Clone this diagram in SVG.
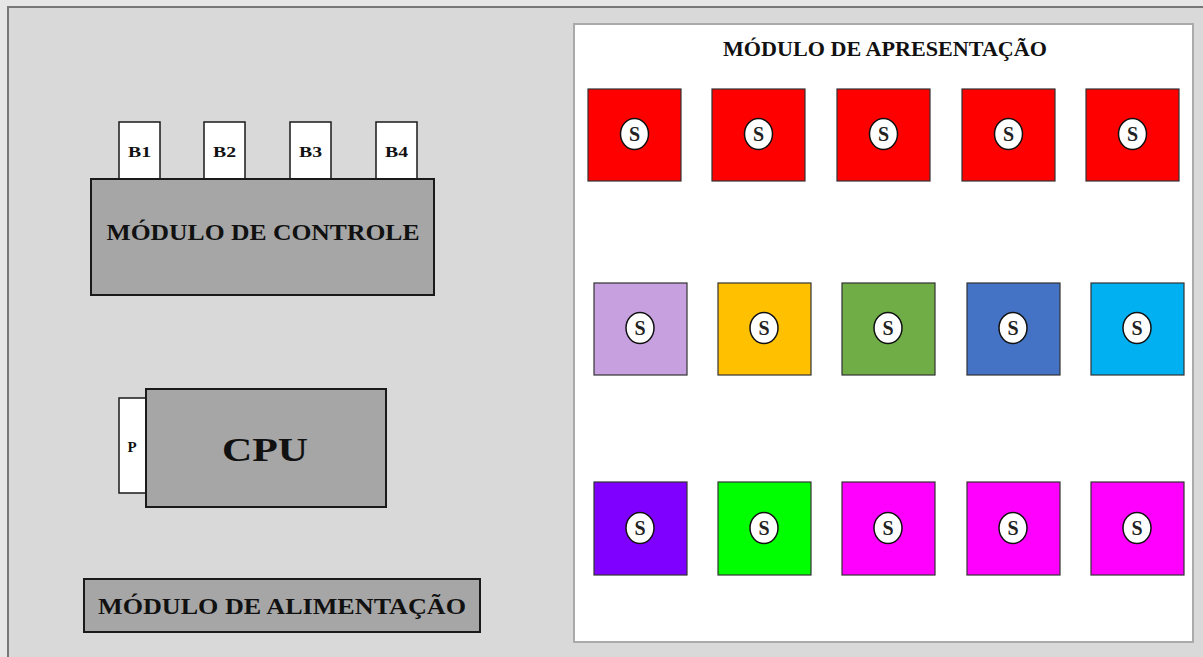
<svg xmlns="http://www.w3.org/2000/svg" width="1203" height="657" viewBox="0 0 1203 657">
<style>
.t{font-family:"Liberation Serif","Times New Roman",serif;font-weight:bold;fill:#111;text-anchor:middle;dominant-baseline:central}
.mod{fill:#a6a6a6;stroke:#1a1a1a;stroke-width:2}
.btn{fill:#fff;stroke:#1a1a1a;stroke-width:1.5}
.sq{stroke:#333;stroke-width:1.2}
.c{fill:#fff;stroke:#111;stroke-width:1.5}
.s{font-family:"Liberation Serif","Times New Roman",serif;font-weight:bold;font-size:20px;fill:#222;text-anchor:middle;dominant-baseline:central}
</style>
<rect x="0" y="0" width="1203" height="657" fill="#e6e6e6"/>
<rect x="8" y="7" width="1210" height="670" fill="#d9d9d9" stroke="#777" stroke-width="2"/>
<g id="controle">
<rect class="btn" x="119" y="122" width="41" height="57"/>
<text class="t" x="139.5" y="152" font-size="15" textLength="23" lengthAdjust="spacingAndGlyphs">B1</text>
<rect class="btn" x="204" y="122" width="41" height="57"/>
<text class="t" x="224.5" y="152" font-size="15" textLength="23" lengthAdjust="spacingAndGlyphs">B2</text>
<rect class="btn" x="290" y="122" width="41" height="57"/>
<text class="t" x="310.5" y="152" font-size="15" textLength="23" lengthAdjust="spacingAndGlyphs">B3</text>
<rect class="btn" x="376" y="122" width="41" height="57"/>
<text class="t" x="396.5" y="152" font-size="15" textLength="23" lengthAdjust="spacingAndGlyphs">B4</text>
<rect class="mod" x="91" y="179" width="343" height="116"/>
<text class="t" x="263" y="232" font-size="24" textLength="313" lengthAdjust="spacingAndGlyphs">MÓDULO DE CONTROLE</text>
</g>
<g id="cpu">
<rect class="btn" x="119" y="398" width="27" height="95"/>
<text class="t" x="132" y="447" font-size="15">P</text>
<rect class="mod" x="146" y="389" width="240" height="118"/>
<text class="t" x="265" y="449" font-size="34" textLength="86" lengthAdjust="spacingAndGlyphs">CPU</text>
</g>
<g id="alimentacao">
<rect class="mod" x="84" y="579" width="396" height="53"/>
<text class="t" x="282" y="606" font-size="23" textLength="368" lengthAdjust="spacingAndGlyphs">MÓDULO DE ALIMENTAÇÃO</text>
</g>
<g id="apresentacao">
<rect x="574" y="24" width="619" height="618" fill="#fff" stroke="#aaa" stroke-width="2"/>
<text class="t" x="885" y="49" font-size="21" textLength="324" lengthAdjust="spacingAndGlyphs">MÓDULO DE APRESENTAÇÃO</text>
</g>
<g id="connectors"></g>
<g id="r1">
<rect class="sq" x="588" y="89" width="93" height="92" fill="#ff0000"/><ellipse class="c" cx="634.5" cy="134" rx="14" ry="15.5"/><text class="s" x="634.5" y="134">S</text>
<rect class="sq" x="712" y="89" width="93" height="92" fill="#ff0000"/><ellipse class="c" cx="758.5" cy="134" rx="14" ry="15.5"/><text class="s" x="758.5" y="134">S</text>
<rect class="sq" x="837" y="89" width="93" height="92" fill="#ff0000"/><ellipse class="c" cx="883.5" cy="134" rx="14" ry="15.5"/><text class="s" x="883.5" y="134">S</text>
<rect class="sq" x="962" y="89" width="93" height="92" fill="#ff0000"/><ellipse class="c" cx="1008.5" cy="134" rx="14" ry="15.5"/><text class="s" x="1008.5" y="134">S</text>
<rect class="sq" x="1086" y="89" width="93" height="92" fill="#ff0000"/><ellipse class="c" cx="1132.5" cy="134" rx="14" ry="15.5"/><text class="s" x="1132.5" y="134">S</text>
</g>
<g id="r2">
<rect class="sq" x="594" y="283" width="93" height="92" fill="#c7a0e0"/><ellipse class="c" cx="640" cy="328" rx="14" ry="15.5"/><text class="s" x="640" y="328">S</text>
<rect class="sq" x="718" y="283" width="93" height="92" fill="#ffc000"/><ellipse class="c" cx="764" cy="328" rx="14" ry="15.5"/><text class="s" x="764" y="328">S</text>
<rect class="sq" x="842" y="283" width="93" height="92" fill="#70ad47"/><ellipse class="c" cx="888" cy="328" rx="14" ry="15.5"/><text class="s" x="888" y="328">S</text>
<rect class="sq" x="967" y="283" width="93" height="92" fill="#4472c4"/><ellipse class="c" cx="1013" cy="328" rx="14" ry="15.5"/><text class="s" x="1013" y="328">S</text>
<rect class="sq" x="1091" y="283" width="93" height="92" fill="#00b0f0"/><ellipse class="c" cx="1137" cy="328" rx="14" ry="15.5"/><text class="s" x="1137" y="328">S</text>
</g>
<g id="r3">
<rect class="sq" x="594" y="482" width="93" height="93" fill="#8000ff"/><ellipse class="c" cx="640" cy="528" rx="14" ry="15.5"/><text class="s" x="640" y="528">S</text>
<rect class="sq" x="718" y="482" width="93" height="93" fill="#00ff00"/><ellipse class="c" cx="764" cy="528" rx="14" ry="15.5"/><text class="s" x="764" y="528">S</text>
<rect class="sq" x="842" y="482" width="93" height="93" fill="#ff00ff"/><ellipse class="c" cx="888" cy="528" rx="14" ry="15.5"/><text class="s" x="888" y="528">S</text>
<rect class="sq" x="967" y="482" width="93" height="93" fill="#ff00ff"/><ellipse class="c" cx="1013" cy="528" rx="14" ry="15.5"/><text class="s" x="1013" y="528">S</text>
<rect class="sq" x="1091" y="482" width="93" height="93" fill="#ff00ff"/><ellipse class="c" cx="1137" cy="528" rx="14" ry="15.5"/><text class="s" x="1137" y="528">S</text>
</g>
</svg>
